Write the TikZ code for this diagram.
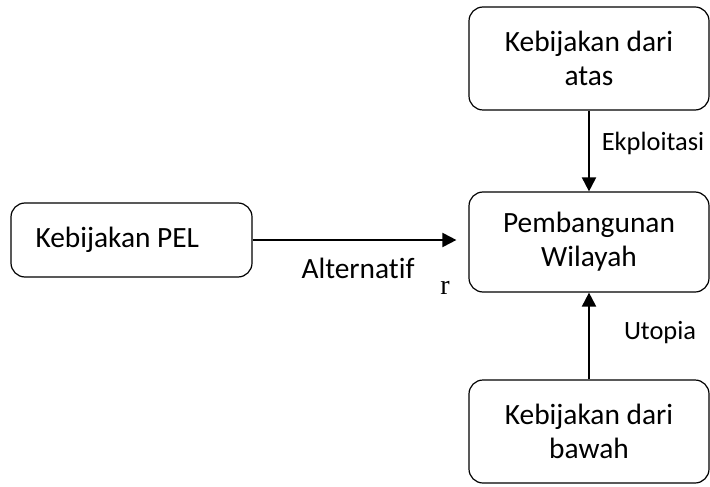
\documentclass[tikz,border=0pt]{standalone}
\usepackage{fontspec}
\setmainfont{Carlito}[Ligatures=NoCommon]
\newfontfamily\serifr{Liberation Serif}
\usetikzlibrary{arrows.meta}

\tikzset{
  kotak/.style={draw,line width=0.6pt,rounded corners=7pt,minimum width=120pt,align=center,font=\fontsize{14.7}{17}\selectfont},
  panah/.style={line width=1pt,-{Triangle[length=7pt,width=7pt]}},
  teks/.style={font=\fontsize{13.2}{15}\selectfont}
}

\begin{document}
\begin{tikzpicture}[x=0.5pt,y=-0.5pt]
\useasboundingbox (0,0) rectangle (710,486);
\node[kotak,minimum height=51.5pt] (atas) at (589,58.5) {Kebijakan dari\\atas};
\node[kotak,minimum height=50pt] (wilayah) at (589,242) {Pembangunan\\Wilayah};
\node[kotak,minimum height=51.5pt] (bawah) at (589,431.5) {Kebijakan dari\\bawah};
\node[kotak,minimum width=120.5pt,minimum height=37pt,text width=96pt,inner xsep=12pt,align=flush left] (pel) at (131.5,240) {Kebijakan PEL};
\draw[panah] (atas) -- (wilayah);
\draw[panah] (bawah) -- (wilayah);
\draw[panah,shorten >=6pt] (pel.east) -- (pel.east -| wilayah.west);
\node[teks] (eksploitasi) at (653,143) {Ekploitasi};
\node[teks] (utopia) at (660,333) {Utopia};
\node[font=\fontsize{14.7}{17}\selectfont] (alternatif) at (358,268) {Alternatif};
\node[font=\serifr\fontsize{14}{16}\selectfont] (huruf) at (445,288) {r};
\end{tikzpicture}
\end{document}
